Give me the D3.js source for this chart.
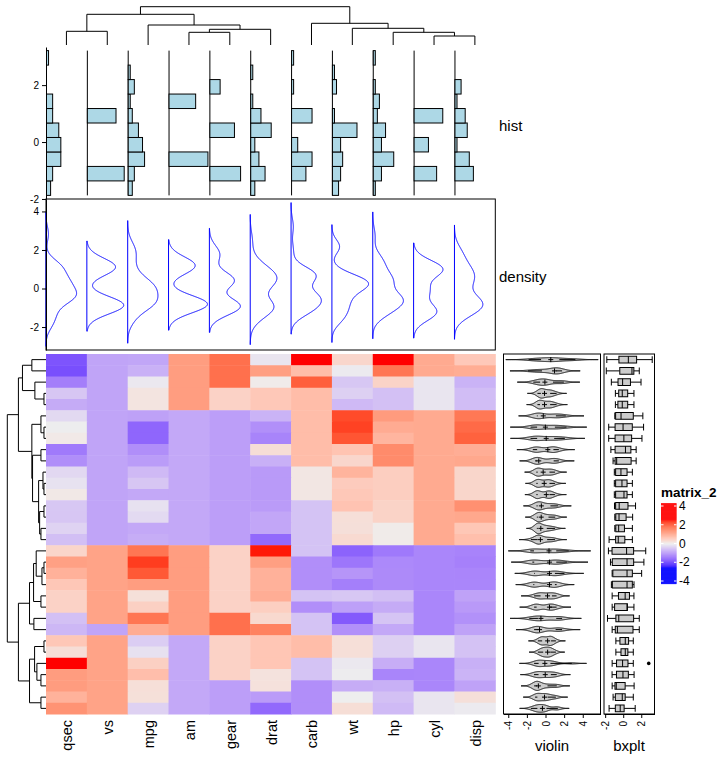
<!DOCTYPE html>
<html>
<head>
<meta charset="utf-8">
<script src="https://cdn.jsdelivr.net/npm/d3@7"></script>
<style>
body { margin: 0; background: #fff; }
text { font-family: "Liberation Sans", Arial, sans-serif; }
</style>
</head>
<body>
<svg width="724" height="763"></svg>
<script>

// scaled matrix (matrix_2), rows in the clustered order shown, one array per column
var columns = ["qsec", "vs", "mpg", "am", "gear", "drat", "carb", "wt", "hp", "cyl", "disp"];

var qsec = [-1.818,-1.874,-1.314,-0.464,-0.777,-0.240,-0.016,0.073,-1.365,-1.124,-0.251,-0.139,0.085,-0.447,-0.464,-0.307,-0.548,0.376,1.148,0.907,0.588,0.420,0.426,-0.531,-0.643,0.588,0.253,2.827,1.204,1.209,0.890,1.327];
var vs   = [-0.868,-0.868,-0.868,-0.868,-0.868,-0.868,-0.868,-0.868,-0.868,-0.868,-0.868,-0.868,-0.868,-0.868,-0.868,-0.868,-0.868,1.116,1.116,1.116,1.116,1.116,1.116,1.116,-0.868,1.116,1.116,1.116,1.116,1.116,1.116,1.116];
var mpg  = [-0.845,-0.712,-0.065,0.151,0.151,-0.894,-1.608,-1.608,-1.127,-0.961,-0.612,-0.463,-0.811,-0.148,-0.231,-0.811,-0.762,1.711,2.291,2.042,1.196,0.217,0.450,1.711,0.980,-0.380,-0.148,0.450,0.715,0.234,0.217,-0.330];
var am   = [1.190,1.190,1.190,1.190,1.190,-0.814,-0.814,-0.814,-0.814,-0.814,-0.814,-0.814,-0.814,-0.814,-0.814,-0.814,-0.814,1.190,1.190,1.190,1.190,1.190,1.190,1.190,1.190,-0.814,-0.814,-0.814,-0.814,-0.814,-0.814,-0.814];
var gear = [1.779,1.779,1.779,0.424,0.424,-0.932,-0.932,-0.932,-0.932,-0.932,-0.932,-0.932,-0.932,-0.932,-0.932,-0.932,-0.932,0.424,0.424,0.424,0.424,0.424,0.424,1.779,1.779,0.424,0.424,0.424,0.424,-0.932,-0.932,-0.932];
var drat = [-0.106,1.166,0.044,0.568,0.568,-0.686,-1.116,-1.247,0.250,-0.723,-0.985,-0.985,-0.985,-0.966,-0.835,-0.835,-1.565,2.494,1.166,0.904,0.904,0.960,0.474,0.324,1.559,0.605,0.605,0.605,0.175,0.193,-0.966,-1.565];
var carb = [3.212,0.735,1.973,0.735,0.735,0.735,0.735,0.735,0.735,0.735,0.116,0.116,0.116,-0.503,-0.503,-0.503,-0.503,-0.503,-1.122,-1.122,-1.122,-0.503,-1.122,-0.503,-0.503,0.735,0.735,-0.503,-0.503,-1.122,-1.122,-1.122];
var wt   = [0.361,-0.048,-0.457,-0.350,-0.610,2.175,2.255,2.077,0.636,0.361,0.872,0.524,0.575,0.642,0.228,0.223,0.309,-1.638,-1.413,-1.040,-1.310,-0.447,-0.917,-1.742,-1.101,0.228,0.228,-0.069,-0.028,-0.769,-0.002,0.248];
var hp   = [2.747,1.711,0.413,-0.535,-0.535,1.215,0.996,0.850,1.434,1.434,0.486,0.486,0.486,0.413,0.413,0.048,0.048,-1.381,-1.191,-1.177,-1.177,-0.550,-0.783,-0.491,-0.812,-0.345,-0.345,-0.754,-1.235,-0.725,-0.535,-0.608];
var cyl  = [1.015,1.015,-0.105,-0.105,-0.105,1.015,1.015,1.015,1.015,1.015,1.015,1.015,1.015,1.015,1.015,1.015,1.015,-1.225,-1.225,-1.225,-1.225,-1.225,-1.225,-1.225,-1.225,-0.105,-0.105,-1.225,-1.225,-1.225,-0.105,-0.105];
var disp = [0.567,0.970,-0.692,-0.571,-0.571,1.689,1.850,1.947,0.962,1.043,0.364,0.364,0.364,1.366,1.043,0.591,0.704,-1.251,-1.288,-1.227,-1.224,-0.885,-0.990,-1.094,-0.891,-0.509,-0.509,-0.726,-0.678,-0.893,0.220,-0.046];

// dendrograms: [left, right, height], leaves are column / row indices
var colTree = [[[0, 1, 13.7], [2, [[3, 4, 12.7], 5, 15.7], 20], 30.7],
               [6, [7, [8, [9, 10, 9], 12.7], 16.7], 21.7], 38.3];
var rowTree = [[[[0, 1, 14], [2, [3, 4, 2], 11], 23.3],
                [[5, [6, 7, 2], 5],
                 [[8, 9, 5], [[10, [11, 12, 2], 3], [[13, 14, 2], [15, 16, 5], 6.3], 7.3], 13.3], 14], 27.3],
               [[[[17, [[18, 19, 2], 20, 4], 9.7], [21, 22, 5], 12.3], [23, 24, 12], 16.3],
                [[[25, 26, 2], [27, [28, 29, 5], 9], 11.3], [30, 31, 5], 16.3], 27.3], 38.3];

var legendTicks = [-4, -2, 0, 2, 4];

var cols = [qsec, vs, mpg, am, gear, drat, carb, wt, hp, cyl, disp];
var nr = qsec.length, nc = columns.length;
var rowsVals = d3.range(nr).map(function(i) { return cols.map(function(c) { return c[i]; }); });
var all = d3.merge(cols);

var svg = d3.select("svg");

var x = d3.scaleBand().domain(d3.range(nc)).range([46, 495.3]);
var y = d3.scaleBand().domain(d3.range(nr)).range([354, 714]);
var color = d3.scaleLinear().domain([-2.55, 0, 2.55]).range(["blue", "#EEEEEE", "red"])
    .interpolate(d3.interpolateLab).clamp(true);
var plain = function(d) { return String(d); };

// R-like density (gaussian, bw.nrd0, 512 points, cut = 3)
function density(v) {
  var s = v.slice().sort(d3.ascending);
  var iqr = d3.quantileSorted(s, 0.75) - d3.quantileSorted(s, 0.25);
  var lo = Math.min(d3.deviation(v), iqr / 1.34) || d3.deviation(v);
  var bw = 0.9 * lo * Math.pow(v.length, -0.2);
  var a = s[0] - 3 * bw, b = s[s.length - 1] + 3 * bw;
  return d3.range(512).map(function(k) {
    var t = a + (b - a) * k / 511;
    var d = d3.mean(v, function(xi) { var z = (t - xi) / bw; return Math.exp(-0.5 * z * z); }) / (bw * Math.sqrt(2 * Math.PI));
    return [t, d];
  });
}

function fivenum(v) {
  var s = v.slice().sort(d3.ascending), n = s.length;
  var n4 = Math.floor((n + 3) / 2) / 2;
  return [1, n4, (n + 1) / 2, n + 1 - n4, n].map(function(d) {
    return 0.5 * (s[Math.floor(d) - 1] + s[Math.ceil(d) - 1]);
  });
}

function smallText(g) {
  g.selectAll("text").attr("font-size", 10).attr("font-family", "Liberation Sans, Arial").attr("fill", "#000");
}

// ---- heatmap
svg.append("g").selectAll("g")
  .data(rowsVals)
  .join("g")
  .each(function(row, i) {
    d3.select(this).selectAll("rect")
      .data(row)
      .join("rect")
        .attr("x", function(d, j) { return x(j); })
        .attr("y", y(i))
        .attr("width", x.bandwidth() + 0.5)
        .attr("height", y.bandwidth() + 0.5)
        .attr("fill", function(d) { return color(d); });
  });

// ---- dendrograms
function drawTree(g, node, pos, hs, vertical) {
  if (typeof node === "number") return {p: pos(node), h: 0};
  var l = drawTree(g, node[0], pos, hs, vertical),
      r = drawTree(g, node[1], pos, hs, vertical),
      h = node[2];
  var pts = [[l.p, hs(l.h)], [l.p, hs(h)], [r.p, hs(h)], [r.p, hs(r.h)]];
  if (!vertical) pts = pts.map(function(p) { return [p[1], p[0]]; });
  g.append("path").attr("d", d3.line()(pts));
  return {p: (l.p + r.p) / 2, h: h};
}
var dg = svg.append("g").attr("fill", "none").attr("stroke", "#000").attr("stroke-width", 1);
drawTree(dg, colTree, function(j) { return x(j) + x.bandwidth() / 2; }, d3.scaleLinear([0, 38.3], [45, 6.7]), true);
drawTree(dg, rowTree, function(i) { return y(i) + y.bandwidth() / 2; }, d3.scaleLinear([0, 38.3], [46, 7.3]), false);

// ---- hist annotation
var lo = d3.min(all), hi = d3.max(all), bwid = (hi - lo) / 10;
var edges = d3.range(11).map(function(k) { return lo + k * bwid; });
var counts = cols.map(function(c) {
  var ct = d3.range(10).map(function() { return 0; });
  c.forEach(function(v) { ct[Math.max(0, Math.min(9, Math.ceil((v - lo) / bwid - 1e-9) - 1))]++; });
  return ct;
});
var hy = d3.scaleLinear([lo - 0.025 * (hi - lo), hi + 0.025 * (hi - lo)], [199, 47]);
var hc = d3.scaleLinear([0, d3.max(d3.merge(counts)) * 1.05], [0, x.bandwidth()]);
var hg = svg.append("g").attr("stroke", "#000").attr("stroke-width", 1);
counts.forEach(function(ct, j) {
  var x0 = x(j) + 0.5;
  hg.append("line").attr("x1", x0).attr("x2", x0).attr("y1", hy(lo)).attr("y2", hy(hi));
  ct.forEach(function(d, k) {
    if (!d) return;
    hg.append("rect")
      .attr("x", x0).attr("y", hy(edges[k + 1]))
      .attr("width", hc(d)).attr("height", hy(edges[k]) - hy(edges[k + 1]))
      .attr("fill", "#ADD8E6");
  });
});
svg.append("g").attr("transform", "translate(46,0)")
  .call(d3.axisLeft(hy).tickValues([-2, 0, 2]).tickFormat(plain).tickSize(4).tickSizeOuter(0))
  .call(smallText);

// ---- density annotation
var dens = cols.map(density);
var dx = d3.extent(d3.merge(dens), function(d) { return d[0]; });
var dpad = 0.025 * (dx[1] - dx[0]);
var dy = d3.scaleLinear([dx[0] - dpad, dx[1] + dpad], [350, 199]);
var dd = d3.scaleLinear([0, d3.max(d3.merge(dens), function(d) { return d[1]; }) * 1.05], [0, x.bandwidth()]);
svg.append("rect").attr("x", 46).attr("y", 199).attr("width", 449.3).attr("height", 151)
  .attr("fill", "none").attr("stroke", "#000");
dens.forEach(function(dn, j) {
  var pts = [[x(j), dy(dn[0][0])]].concat(dn.map(function(d) { return [x(j) + dd(d[1]), dy(d[0])]; }))
    .concat([[x(j), dy(dn[dn.length - 1][0])]]);
  svg.append("path").attr("d", d3.line()(pts) + "Z")
    .attr("fill", "none").attr("stroke", "blue").attr("stroke-width", 1);
});
svg.append("g").attr("transform", "translate(46,0)")
  .call(d3.axisLeft(dy).tickValues([-2, 0, 2, 4]).tickFormat(plain).tickSize(4).tickSizeOuter(0))
  .call(smallText);

// ---- violin row annotation
var vd = rowsVals.map(density);
var vx0 = d3.extent(d3.merge(vd), function(d) { return d[0]; });
var vpad = 0.025 * (vx0[1] - vx0[0]);
var vx = d3.scaleLinear([vx0[0] - vpad, vx0[1] + vpad], [503.5, 600.5]);
var vh = d3.scaleLinear([0, d3.max(d3.merge(vd), function(d) { return d[1]; }) * 1.05], [0, y.bandwidth() / 2]);
var vg = svg.append("g").attr("stroke", "#000").attr("stroke-width", 1);
vd.forEach(function(dn, i) {
  var yc = y(i) + y.bandwidth() / 2;
  var pts = dn.map(function(d) { return [vx(d[0]), yc - vh(d[1])]; })
    .concat(dn.slice().reverse().map(function(d) { return [vx(d[0]), yc + vh(d[1])]; }));
  vg.append("path").attr("d", d3.line()(pts) + "Z").attr("fill", "#CCCCCC");
  var f = fivenum(rowsVals[i]);
  vg.append("line").attr("x1", vx(f[0])).attr("x2", vx(f[1])).attr("y1", yc).attr("y2", yc);
  vg.append("line").attr("x1", vx(f[3])).attr("x2", vx(f[4])).attr("y1", yc).attr("y2", yc);
  vg.append("path").attr("d", "M" + (vx(f[2]) - 2.5) + "," + yc + "h5M" + vx(f[2]) + "," + (yc - 2.5) + "v5");
});
svg.append("rect").attr("x", 503.5).attr("y", 354).attr("width", 97).attr("height", 360)
  .attr("fill", "none").attr("stroke", "#000");

// ---- boxplot row annotation
var bx = d3.scaleLinear([lo - 0.05 * (hi - lo), hi + 0.05 * (hi - lo)], [604, 654.5]);
var bg = svg.append("g").attr("stroke", "#000").attr("stroke-width", 1);
rowsVals.forEach(function(v, i) {
  var f = fivenum(v), iqr = f[3] - f[1];
  var inside = v.filter(function(d) { return d >= f[1] - 1.5 * iqr && d <= f[3] + 1.5 * iqr; });
  var wl = d3.min(inside), wh = d3.max(inside);
  var yc = y(i) + y.bandwidth() / 2, hb = y.bandwidth() * 0.6 / 2;
  bg.append("line").attr("x1", bx(wl)).attr("x2", bx(f[1])).attr("y1", yc).attr("y2", yc);
  bg.append("line").attr("x1", bx(f[3])).attr("x2", bx(wh)).attr("y1", yc).attr("y2", yc);
  bg.append("line").attr("x1", bx(wl)).attr("x2", bx(wl)).attr("y1", yc - hb).attr("y2", yc + hb);
  bg.append("line").attr("x1", bx(wh)).attr("x2", bx(wh)).attr("y1", yc - hb).attr("y2", yc + hb);
  bg.append("rect").attr("x", bx(f[1])).attr("y", yc - hb).attr("width", bx(f[3]) - bx(f[1])).attr("height", 2 * hb)
    .attr("fill", "#CCCCCC");
  bg.append("line").attr("x1", bx(f[2])).attr("x2", bx(f[2])).attr("y1", yc - hb).attr("y2", yc + hb);
  v.filter(function(d) { return d < wl || d > wh; }).forEach(function(d) {
    bg.append("circle").attr("cx", bx(d)).attr("cy", yc).attr("r", 1.8).attr("fill", "#000").attr("stroke", "none");
  });
});
svg.append("rect").attr("x", 604).attr("y", 354).attr("width", 50.5).attr("height", 360)
  .attr("fill", "none").attr("stroke", "#000");

// bottom axes of the row annotations
function rotAxis(scale, ticks) {
  return function(g) {
    g.call(d3.axisBottom(scale).tickValues(ticks).tickFormat(plain).tickSize(4).tickSizeOuter(0));
    smallText(g);
    g.selectAll("text")
      .attr("transform", "rotate(-90)").attr("text-anchor", "end")
      .attr("x", -7).attr("y", 0).attr("dy", "0.35em");
  };
}
svg.append("g").attr("transform", "translate(0,714)").call(rotAxis(vx, [-4, -2, 0, 2, 4]));
svg.append("g").attr("transform", "translate(0,714)").call(rotAxis(bx, [-2, 0, 2]));

// ---- labels
svg.append("g").selectAll("text").data(columns).join("text")
  .attr("transform", function(d, j) { return "translate(" + (x(j) + x.bandwidth() / 2 + 6) + ",720) rotate(-90)"; })
  .attr("text-anchor", "end").attr("font-size", 14.5).text(function(d) { return d; });
svg.append("text").attr("x", 552).attr("y", 751).attr("text-anchor", "middle").attr("font-size", 15).text("violin");
svg.append("text").attr("x", 629).attr("y", 751).attr("text-anchor", "middle").attr("font-size", 15).text("bxplt");
svg.append("text").attr("x", 499).attr("y", 131).attr("font-size", 15).text("hist");
svg.append("text").attr("x", 499).attr("y", 282).attr("font-size", 15).text("density");

// ---- legend
var ly = d3.scaleLinear([-4, 4], [581, 506]);
var lg = svg.append("g");
lg.append("text").attr("x", 661).attr("y", 497).attr("font-size", 13.5).attr("font-weight", "bold").text("matrix_2");
lg.selectAll("rect").data(d3.range(-4.3, 4.3, 0.05)).join("rect")
  .attr("x", 661).attr("width", 15.5)
  .attr("y", function(d) { return ly(d + 0.05); }).attr("height", ly(0) - ly(0.05) + 0.3)
  .attr("fill", function(d) { return color(d + 0.025); });
lg.selectAll("path").data(legendTicks).join("path")
  .attr("d", function(d) { return "M661," + ly(d) + "h2.5M676.5," + ly(d) + "h-2.5"; })
  .attr("stroke", "#fff").attr("stroke-width", 1);
lg.selectAll("text.tk").data(legendTicks).join("text").attr("class", "tk")
  .attr("x", 679).attr("y", function(d) { return ly(d); }).attr("dy", "0.35em")
  .attr("font-size", 12).text(function(d) { return d; });

</script>
</body>
</html>
